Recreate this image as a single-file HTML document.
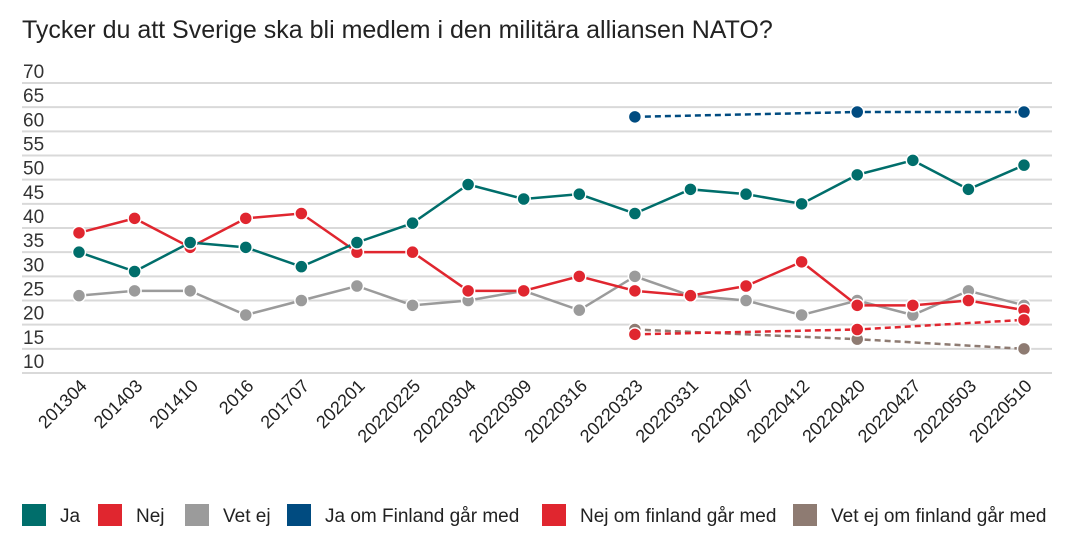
<!DOCTYPE html>
<html><head><meta charset="utf-8">
<style>
body{margin:0;background:#fff;font-family:"Liberation Sans",Arial,sans-serif;}
svg text{font-family:"Liberation Sans",Arial,sans-serif;}
</style></head>
<body>
<svg id="chart" width="1080" height="542" xmlns="http://www.w3.org/2000/svg">
<text x="22" y="38" font-size="25" fill="#222">Tycker du att Sverige ska bli medlem i den militära alliansen NATO?</text>
<g id="grid"></g><g id="xlabels"></g><g id="series"></g><g id="legend"></g>
</svg>
<script>
const categories=["201304","201403","201410","2016","201707","202201","20220225","20220304","20220309","20220316","20220323","20220331","20220407","20220412","20220420","20220427","20220503","20220510"];
const yTicks=[10,15,20,25,30,35,40,45,50,55,60,65,70];
const ja=[35,31,37,36,32,37,41,49,46,47,43,48,47,45,51,54,48,53];
const nej=[39,42,36,42,43,35,35,27,27,30,27,26,28,33,24,24,25,23];
const vetej=[26,27,27,22,25,28,24,25,27,23,30,26,25,22,25,22,27,24];
const finCats=["20220323","20220420","20220510"];
const jaFin=[63,64,64];
const nejFin=[18,19,21];
const vetFin=[19,17,15];
const NS="http://www.w3.org/2000/svg";
const x0=79,x1=1024,yTop=83,yBot=373;
function xs(c){return x0+categories.indexOf(c)*(x1-x0)/(categories.length-1);}
function ys(v){return yBot-(v-10)*(yBot-yTop)/60;}
function mk(t,a,p){const e=document.createElementNS(NS,t);for(const k in a)e.setAttribute(k,a[k]);p.appendChild(e);return e;}
const grid=document.getElementById('grid');
yTicks.forEach(v=>{
  const l=mk('line',{x1:22,x2:1052,y1:ys(v),y2:ys(v),stroke:'#d9d9d9','stroke-width':2},grid);
  
  
  const t=mk('text',{x:23,y:ys(v)-5,'font-size':19,fill:'#333'},grid);
  t.textContent=v;
  
  
});
const xl=document.getElementById('xlabels');
categories.forEach(c=>{
  const t=mk('text',{x:xs(c)+9,y:387,'font-size':18,fill:'#222','text-anchor':'end',transform:`rotate(-45 ${xs(c)+9} 387)`},xl);
  t.textContent=c;
  
  
});
const sg=document.getElementById('series');
function draw(name,cats,vals,color,dash){
  const g=mk('g',{},sg);
  
  
  const pts=cats.map((c,i)=>xs(c)+','+ys(vals[i])).join(' ');
  const a={points:pts,fill:'none',stroke:color,'stroke-width':2.5};
  if(dash)a['stroke-dasharray']='6,4';
  mk('polyline',a,g);
  cats.forEach((c,i)=>{
    const p=mk('circle',{cx:xs(c),cy:ys(vals[i]),r:6.5,fill:color,stroke:'#fff','stroke-width':1.5},g);
    
    
  });
}
draw('vet-ej',categories,vetej,'#9b9b9b');
draw('nej',categories,nej,'#e0262f');
draw('ja',categories,ja,'#006e6b');
draw('vet-ej-finland',finCats,vetFin,'#8e7b72',true);
draw('nej-finland',finCats,nejFin,'#e0262f',true);
draw('ja-finland',finCats,jaFin,'#004b80',true);
const lg=document.getElementById('legend');
const items=[["Ja","#006e6b",22],["Nej","#e0262f",98],["Vet ej","#9b9b9b",185],["Ja om Finland går med","#004b80",287],["Nej om finland går med","#e0262f",542],["Vet ej om finland går med","#8e7b72",793]];
items.forEach(([lab,col,x])=>{
  const g=mk('g',{},lg);
  
  
  mk('rect',{x:x,y:504,width:24,height:22,fill:col},g);
  const t=mk('text',{x:x+38,y:522,'font-size':19,fill:'#222'},g);
  t.textContent=lab;
});
</script>
</body></html>
